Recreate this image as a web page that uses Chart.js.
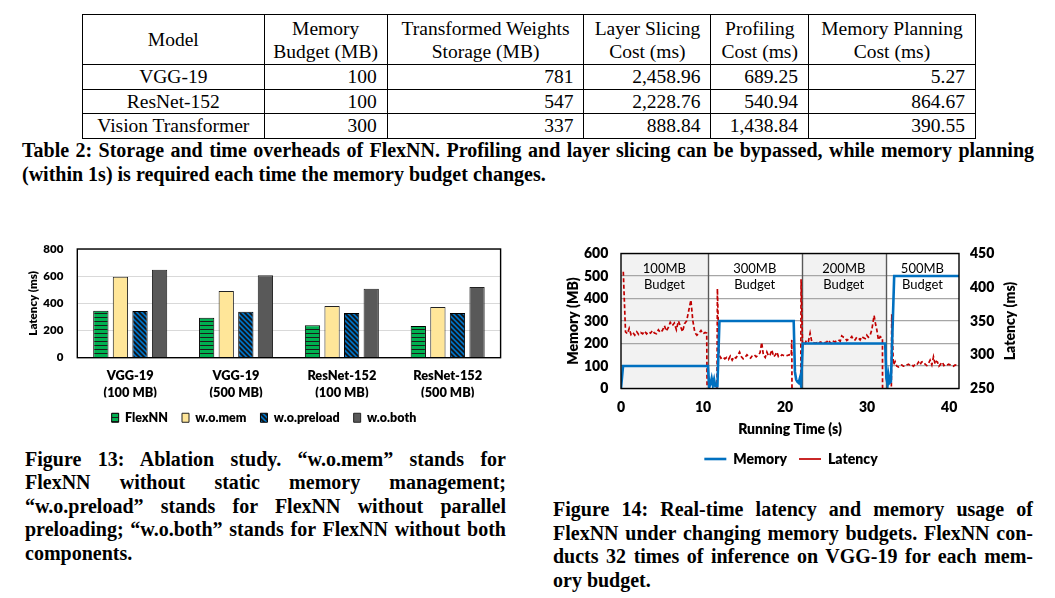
<!DOCTYPE html>
<html>
<head>
<meta charset="utf-8">
<script src="https://cdn.jsdelivr.net/npm/chart.js@4.4.1/dist/chart.umd.min.js"></script>
<style>
  html, body { margin:0; padding:0; background:#fff; }
  body { width:1055px; height:598px; position:relative; overflow:hidden; }
  #tbl { position:absolute; left:82px; top:14px; border-collapse:collapse; table-layout:fixed; width:893px;
         font-family:'Liberation Serif', serif; font-size:19.5px; color:#000; }
  #tbl td, #tbl th { border:1.3px solid #000; padding:0 10px 0 0; text-align:right; font-weight:normal; line-height:23px; white-space:nowrap; }
  #tbl th { text-align:center; padding:0; }
  #tbl td.c { text-align:center; padding:0; }
  #tbl tr.h { height:50px; }
  #tbl tr.r { height:24.5px; }
  .cap { position:absolute; font-family:'Liberation Serif', serif; font-weight:bold; font-size:20px; line-height:23.5px; color:#000; }
  .cap div { white-space:nowrap; }
  .cap .j { text-align:justify; text-align-last:justify; }
  canvas { position:absolute; }
</style>
</head>
<body>
<table id="tbl">
  <colgroup><col style="width:181.6px"><col style="width:123.1px"><col style="width:196.7px"><col style="width:127.1px"><col style="width:97.5px"><col style="width:167px"></colgroup>
  <tr class="h"><th>Model</th><th>Memory<br>Budget (MB)</th><th>Transformed Weights<br>Storage (MB)</th><th>Layer Slicing<br>Cost (ms)</th><th>Profiling<br>Cost (ms)</th><th>Memory Planning<br>Cost (ms)</th></tr>
  <tr class="r"><td class="c">VGG-19</td><td>100</td><td>781</td><td>2,458.96</td><td>689.25</td><td>5.27</td></tr>
  <tr class="r"><td class="c">ResNet-152</td><td>100</td><td>547</td><td>2,228.76</td><td>540.94</td><td>864.67</td></tr>
  <tr class="r"><td class="c">Vision Transformer</td><td>300</td><td>337</td><td>888.84</td><td>1,438.84</td><td>390.55</td></tr>
</table>

<div class="cap" style="left:22px;top:139px;width:1012px">
  <div class="j">Table 2: Storage and time overheads of FlexNN. Profiling and layer slicing can be bypassed, while memory planning</div>
  <div>(within 1s) is required each time the memory budget changes.</div>
</div>

<canvas id="fig13" width="508" height="196" style="left:10px;top:238px;width:508px;height:196px"></canvas>
<canvas id="fig14" width="462" height="233" style="left:560px;top:243px;width:462px;height:233px"></canvas>

<div class="cap" style="left:25px;top:447.5px;width:481px">
  <div class="j">Figure 13: Ablation study. “w.o.mem” stands for</div>
  <div class="j">FlexNN without static memory management;</div>
  <div class="j">“w.o.preload” stands for FlexNN without parallel</div>
  <div class="j">preloading; “w.o.both” stands for FlexNN without both</div>
  <div>components.</div>
</div>

<div class="cap" style="left:553px;top:498px;width:480px">
  <div class="j">Figure 14: Real-time latency and memory usage of</div>
  <div class="j">FlexNN under changing memory budgets. FlexNN con-</div>
  <div class="j">ducts 32 times of inference on VGG-19 for each mem-</div>
  <div>ory budget.</div>
</div>

<script>
// ---------- Figure 13 data ----------
const models = ['VGG-19', 'VGG-19', 'ResNet-152', 'ResNet-152'];
const budgets = ['(100 MB)', '(500 MB)', '(100 MB)', '(500 MB)'];
const flexNN = [345, 294, 238, 233];
const woMem = [596, 491, 380, 373];
const woPreload = [344, 339, 329, 329];
const woBoth = [648, 606, 508, 520];
const latencyTicks13 = [0, 200, 400, 600, 800];

// ---------- Figure 14 data ----------
const memTime = [0, 0.25, 10.6, 10.75, 10.9, 11.05, 11.2, 11.35, 11.5, 11.75, 12.0, 21.05, 21.2, 21.35, 21.5, 21.65, 21.8, 21.95, 22.15, 32.2, 32.35, 32.5, 32.6, 32.75, 32.9, 33.3, 41.2];
const memMB   = [0, 100, 100, 5, 20, 45, 15, 40, 10, 10, 300, 300, 75, 40, 30, 25, 45, 15, 200, 200, 45, 20, 60, 25, 30, 500, 500];
const latTime = [
  0.28, 0.55, 0.78, 1.00, 1.22, 1.45, 1.68, 1.92, 2.15, 2.40, 2.64, 2.88, 3.12, 3.36, 3.60, 3.85, 4.08, 4.32, 4.56, 4.80,
  5.05, 5.30, 5.52, 5.76, 6.00, 6.25, 6.50, 6.75, 7.00, 7.25, 7.50, 7.75, 8.00, 8.30, 8.52, 8.75, 9.00, 9.25, 9.50, 9.75,
  10.00, 10.25, 10.45, 10.62, 11.62, 11.75, 11.95, 12.18, 12.40, 12.65, 12.88, 13.10, 13.32, 13.55, 13.78, 14.00, 14.22, 14.45, 14.68, 14.90,
  15.12, 15.35, 15.58, 15.80, 16.02, 16.25, 16.48, 16.72, 16.95, 17.15, 17.36, 17.58, 17.78, 18.00, 18.18, 18.38, 18.62, 18.82, 19.00, 19.20,
  19.40, 19.62, 19.82, 20.05, 20.30, 20.52, 20.75, 20.82, 20.92, 21.85, 21.95, 22.12, 22.36, 22.62, 22.85, 23.05, 23.26, 23.46, 23.66, 23.88,
  24.07, 24.28, 24.47, 24.68, 24.88, 25.08, 25.28, 25.50, 25.69, 25.90, 26.10, 26.30, 26.50, 26.72, 26.91, 27.12, 27.32, 27.52, 27.72, 27.92,
  28.13, 28.34, 28.54, 28.74, 28.94, 29.15, 29.35, 29.55, 29.76, 29.96, 30.15, 30.35, 30.57, 30.85, 31.05, 31.18, 31.38, 31.59, 31.78, 31.87,
  31.92, 32.85, 33.00, 33.20, 33.41, 33.62, 33.82, 34.02, 34.22, 34.42, 34.63, 34.84, 35.04, 35.24, 35.45, 35.65, 35.85, 36.06, 36.26, 36.46,
  36.62, 36.79, 37.07, 37.28, 37.48, 37.68, 37.89, 38.09, 38.29, 38.45, 38.58, 38.75, 38.90, 39.05, 39.19, 39.35, 39.51, 39.72, 39.92, 40.12,
  40.33, 40.53, 40.73, 40.94, 41.14
];
const latMs = [
  423, 334, 331, 339, 330, 333, 329, 334, 330, 333, 331, 335, 331, 334, 332, 336, 332, 331, 337, 333,
  336, 343, 335, 340, 348, 343, 347, 337, 350, 342, 334, 346, 350, 368, 381, 351, 333, 329, 332, 336,
  331, 333, 332, 0, 0, 398, 300, 295, 297, 294, 296, 293, 298, 292, 297, 295, 299, 304, 297, 294,
  296, 300, 297, 295, 299, 300, 297, 299, 303, 318, 299, 296, 304, 298, 300, 307, 297, 300, 304, 297,
  297, 300, 299, 298, 299, 300, 299, 322, 0, 0, 412, 318, 314, 322, 320, 332, 319, 318, 317, 318,
  316, 319, 318, 317, 318, 319, 322, 318, 316, 320, 319, 321, 322, 320, 328, 326, 325, 321, 323, 324,
  327, 322, 322, 326, 325, 322, 327, 325, 324, 329, 326, 328, 337, 358, 344, 337, 322, 327, 325, 325,
  0, 0, 360, 285, 290, 283, 282, 284, 285, 283, 283, 285, 286, 284, 285, 283, 286, 285, 289, 285,
  289, 290, 286, 284, 287, 292, 285, 297, 286, 290, 289, 283, 285, 288, 289, 284, 285, 284, 286, 285,
  284, 283, 285, 284, 283
];
const timeTicks = [0, 10, 20, 30, 40];
const memoryTicks = [0, 100, 200, 300, 400, 500, 600];
const latencyTicks14 = [250, 300, 350, 400, 450];
const budgetBounds = [0, 10.57, 22.04, 32.28, 41.2];
const budgetNames = ['100MB', '300MB', '200MB', '500MB'];

// ---------- common ----------
Chart.defaults.font.family = 'Lato';
Chart.defaults.color = '#000';
Chart.defaults.devicePixelRatio = 1;
const W = 800;

function makePattern(bg, kind) {
  const s = kind === 'h' ? 4 : 5;
  const c = document.createElement('canvas');
  c.width = s; c.height = s;
  const g = c.getContext('2d');
  g.fillStyle = bg; g.fillRect(0, 0, s, s);
  if (kind === 'h') {
    g.fillStyle = '#1b1b1b'; g.fillRect(0, 3, s, 1);
  } else {
    g.strokeStyle = '#111'; g.lineWidth = 1.6;
    g.beginPath();
    g.moveTo(-1, -1); g.lineTo(s + 1, s + 1);
    g.moveTo(-1, s - 1); g.lineTo(1, s + 1);
    g.moveTo(s - 1, -1); g.lineTo(s + 1, 1);
    g.stroke();
  }
  return g.createPattern(c, 'repeat');
}

const frame = {
  id: 'frame',
  afterDraw(chart) {
    const {ctx, chartArea: a} = chart;
    ctx.save();
    ctx.strokeStyle = '#000';
    ctx.lineWidth = 1.4;
    ctx.strokeRect(a.left, a.top, a.right - a.left, a.bottom - a.top);
    ctx.restore();
  }
};
const hiddenTick = (len) => ({drawTicks: true, tickLength: len, tickColor: 'rgba(0,0,0,0)'});

// ---------- Figure 13 ----------
new Chart(document.getElementById('fig13'), {
  type: 'bar',
  data: {
    labels: models.map((m, i) => [m, budgets[i]]),
    datasets: [
      {label: 'FlexNN', data: flexNN, backgroundColor: makePattern('#00b050', 'h'), borderColor: '#000', borderWidth: 1},
      {label: 'w.o.mem', data: woMem, backgroundColor: '#ffe699', borderColor: '#222', borderWidth: 1},
      {label: 'w.o.preload', data: woPreload, backgroundColor: makePattern('#0070c0', 'd'), borderColor: '#000', borderWidth: 1},
      {label: 'w.o.both', data: woBoth, backgroundColor: '#595959', borderColor: '#222', borderWidth: 1}
    ]
  },
  options: {
    responsive: false, animation: false,
    categoryPercentage: 0.74, barPercentage: 0.78,
    layout: {padding: {top: 11, left: 0, right: 0, bottom: 0}},
    plugins: {
      tooltip: {enabled: false},
      legend: {position: 'bottom', labels: {boxWidth: 7, boxHeight: 9, padding: 14, font: {size: 12.5, weight: W}, color: '#000'}}
    },
    scales: {
      x: {
        grid: {display: false, drawTicks: false}, border: {display: false},
        ticks: {font: {size: 12.8, weight: W, lineHeight: 1.375}, padding: 9.2, color: '#000', maxRotation: 0, autoSkip: false},
        afterFit: s => { s.height = 39.8; }
      },
      y: {
        min: 0, max: 800,
        afterBuildTicks: s => { s.ticks = latencyTicks13.map(v => ({value: v})); },
        grid: Object.assign({color: '#d9d9d9', lineWidth: 1}, hiddenTick(12)), border: {display: false},
        ticks: {font: {size: 11.5, weight: W}, padding: 2, color: '#000'},
        title: {display: true, text: 'Latency (ms)', font: {size: 11.5, weight: W}, color: '#000', padding: {top: 16, bottom: 0}},
        afterFit: s => { s.width = 67.3; }
      },
      yR: {
        type: 'linear', position: 'right', display: true,
        grid: {display: false, drawTicks: false}, border: {display: false}, ticks: {display: false},
        afterFit: s => { s.width = 17.4; }
      }
    }
  },
  plugins: [frame]
});

// ---------- Figure 14 ----------
const budgetPlugin = {
  id: 'budget',
  beforeDraw(chart) {
    const {ctx, chartArea: a, scales: {x}} = chart;
    ctx.save();
    ctx.fillStyle = '#f2f2f2';
    for (let i = 0; i < budgetNames.length; i += 2) {
      const x0 = x.getPixelForValue(budgetBounds[i]);
      const x1 = x.getPixelForValue(budgetBounds[i + 1]);
      ctx.fillRect(x0, a.top, x1 - x0, a.bottom - a.top);
    }
    ctx.restore();
  },
  beforeDatasetsDraw(chart) {
    const {ctx, chartArea: a, scales: {x}} = chart;
    ctx.save();
    ctx.strokeStyle = '#595959';
    ctx.lineWidth = 1.4;
    for (let i = 1; i < budgetBounds.length - 1; i++) {
      const px = Math.round(x.getPixelForValue(budgetBounds[i])) + 0.5;
      ctx.beginPath(); ctx.moveTo(px, a.top); ctx.lineTo(px, a.bottom); ctx.stroke();
    }
    ctx.fillStyle = '#000';
    ctx.font = '13px Lato';
    ctx.textAlign = 'center';
    ctx.textBaseline = 'middle';
    for (let i = 0; i < budgetNames.length; i++) {
      const cx = (x.getPixelForValue(budgetBounds[i]) + x.getPixelForValue(budgetBounds[i + 1])) / 2;
      ctx.fillText(budgetNames[i], cx, a.top + 15.8);
      ctx.fillText('Budget', cx, a.top + 31.5);
    }
    ctx.restore();
  },
  afterDraw(chart) {
    const {ctx, chartArea: a, scales: {y1}} = chart;
    ctx.save();
    ctx.translate(y1.right - 12, (a.top + a.bottom) / 2);
    ctx.rotate(-Math.PI / 2);
    ctx.font = W + ' 14px Lato';
    ctx.fillStyle = '#000';
    ctx.textAlign = 'center';
    ctx.textBaseline = 'middle';
    ctx.fillText('Latency (ms)', 0, 0);
    ctx.restore();
  }
};

const bold14 = {size: 14, weight: W};
new Chart(document.getElementById('fig14'), {
  type: 'line',
  data: {
    datasets: [
      {label: 'Memory', data: memTime.map((t, i) => ({x: t, y: memMB[i]})), borderColor: '#0070c0', backgroundColor: '#0070c0',
       borderWidth: 2.6, pointRadius: 0, tension: 0, yAxisID: 'y'},
      {label: 'Latency', data: latTime.map((t, i) => ({x: t, y: latMs[i]})), borderColor: '#c00000', backgroundColor: '#c00000',
       borderWidth: 1.7, borderDash: [4, 2.5], pointRadius: 0, tension: 0, yAxisID: 'y1'}
    ]
  },
  options: {
    responsive: false, animation: false,
    layout: {padding: {top: 10.5, left: 0, right: 0, bottom: 0}},
    plugins: {
      tooltip: {enabled: false},
      legend: {position: 'bottom', labels: {usePointStyle: true, pointStyle: 'line', pointStyleWidth: 22, padding: 12, font: bold14, color: '#000'}}
    },
    scales: {
      x: {
        type: 'linear', min: 0, max: 41.2,
        afterBuildTicks: s => { s.ticks = timeTicks.map(v => ({value: v})); },
        grid: {display: false, drawTicks: false}, border: {display: false},
        ticks: {font: bold14, padding: 11, color: '#000', maxRotation: 0},
        title: {display: true, text: 'Running Time (s)', font: bold14, color: '#000', padding: {top: 0, bottom: 2.6}},
        afterFit: s => { s.height = 51.5; }
      },
      y: {
        position: 'left', min: 0, max: 600,
        afterBuildTicks: s => { s.ticks = memoryTicks.map(v => ({value: v})); },
        grid: Object.assign({color: '#a6a6a6', lineWidth: 1.3}, hiddenTick(10.7)), border: {display: false},
        ticks: {font: bold14, padding: 2, color: '#000'},
        title: {display: true, text: 'Memory (MB)', font: bold14, color: '#000', padding: {top: 4.6, bottom: 0}},
        afterFit: s => { s.width = 61; }
      },
      y1: {
        position: 'right', min: 250, max: 450,
        afterBuildTicks: s => { s.ticks = latencyTicks14.map(v => ({value: v})); },
        grid: Object.assign({display: false}, hiddenTick(9)), border: {display: false},
        ticks: {font: bold14, padding: 2, color: '#000'},
        afterFit: s => { s.width = 63; }
      }
    }
  },
  plugins: [budgetPlugin, frame]
});
</script>
</body>
</html>
